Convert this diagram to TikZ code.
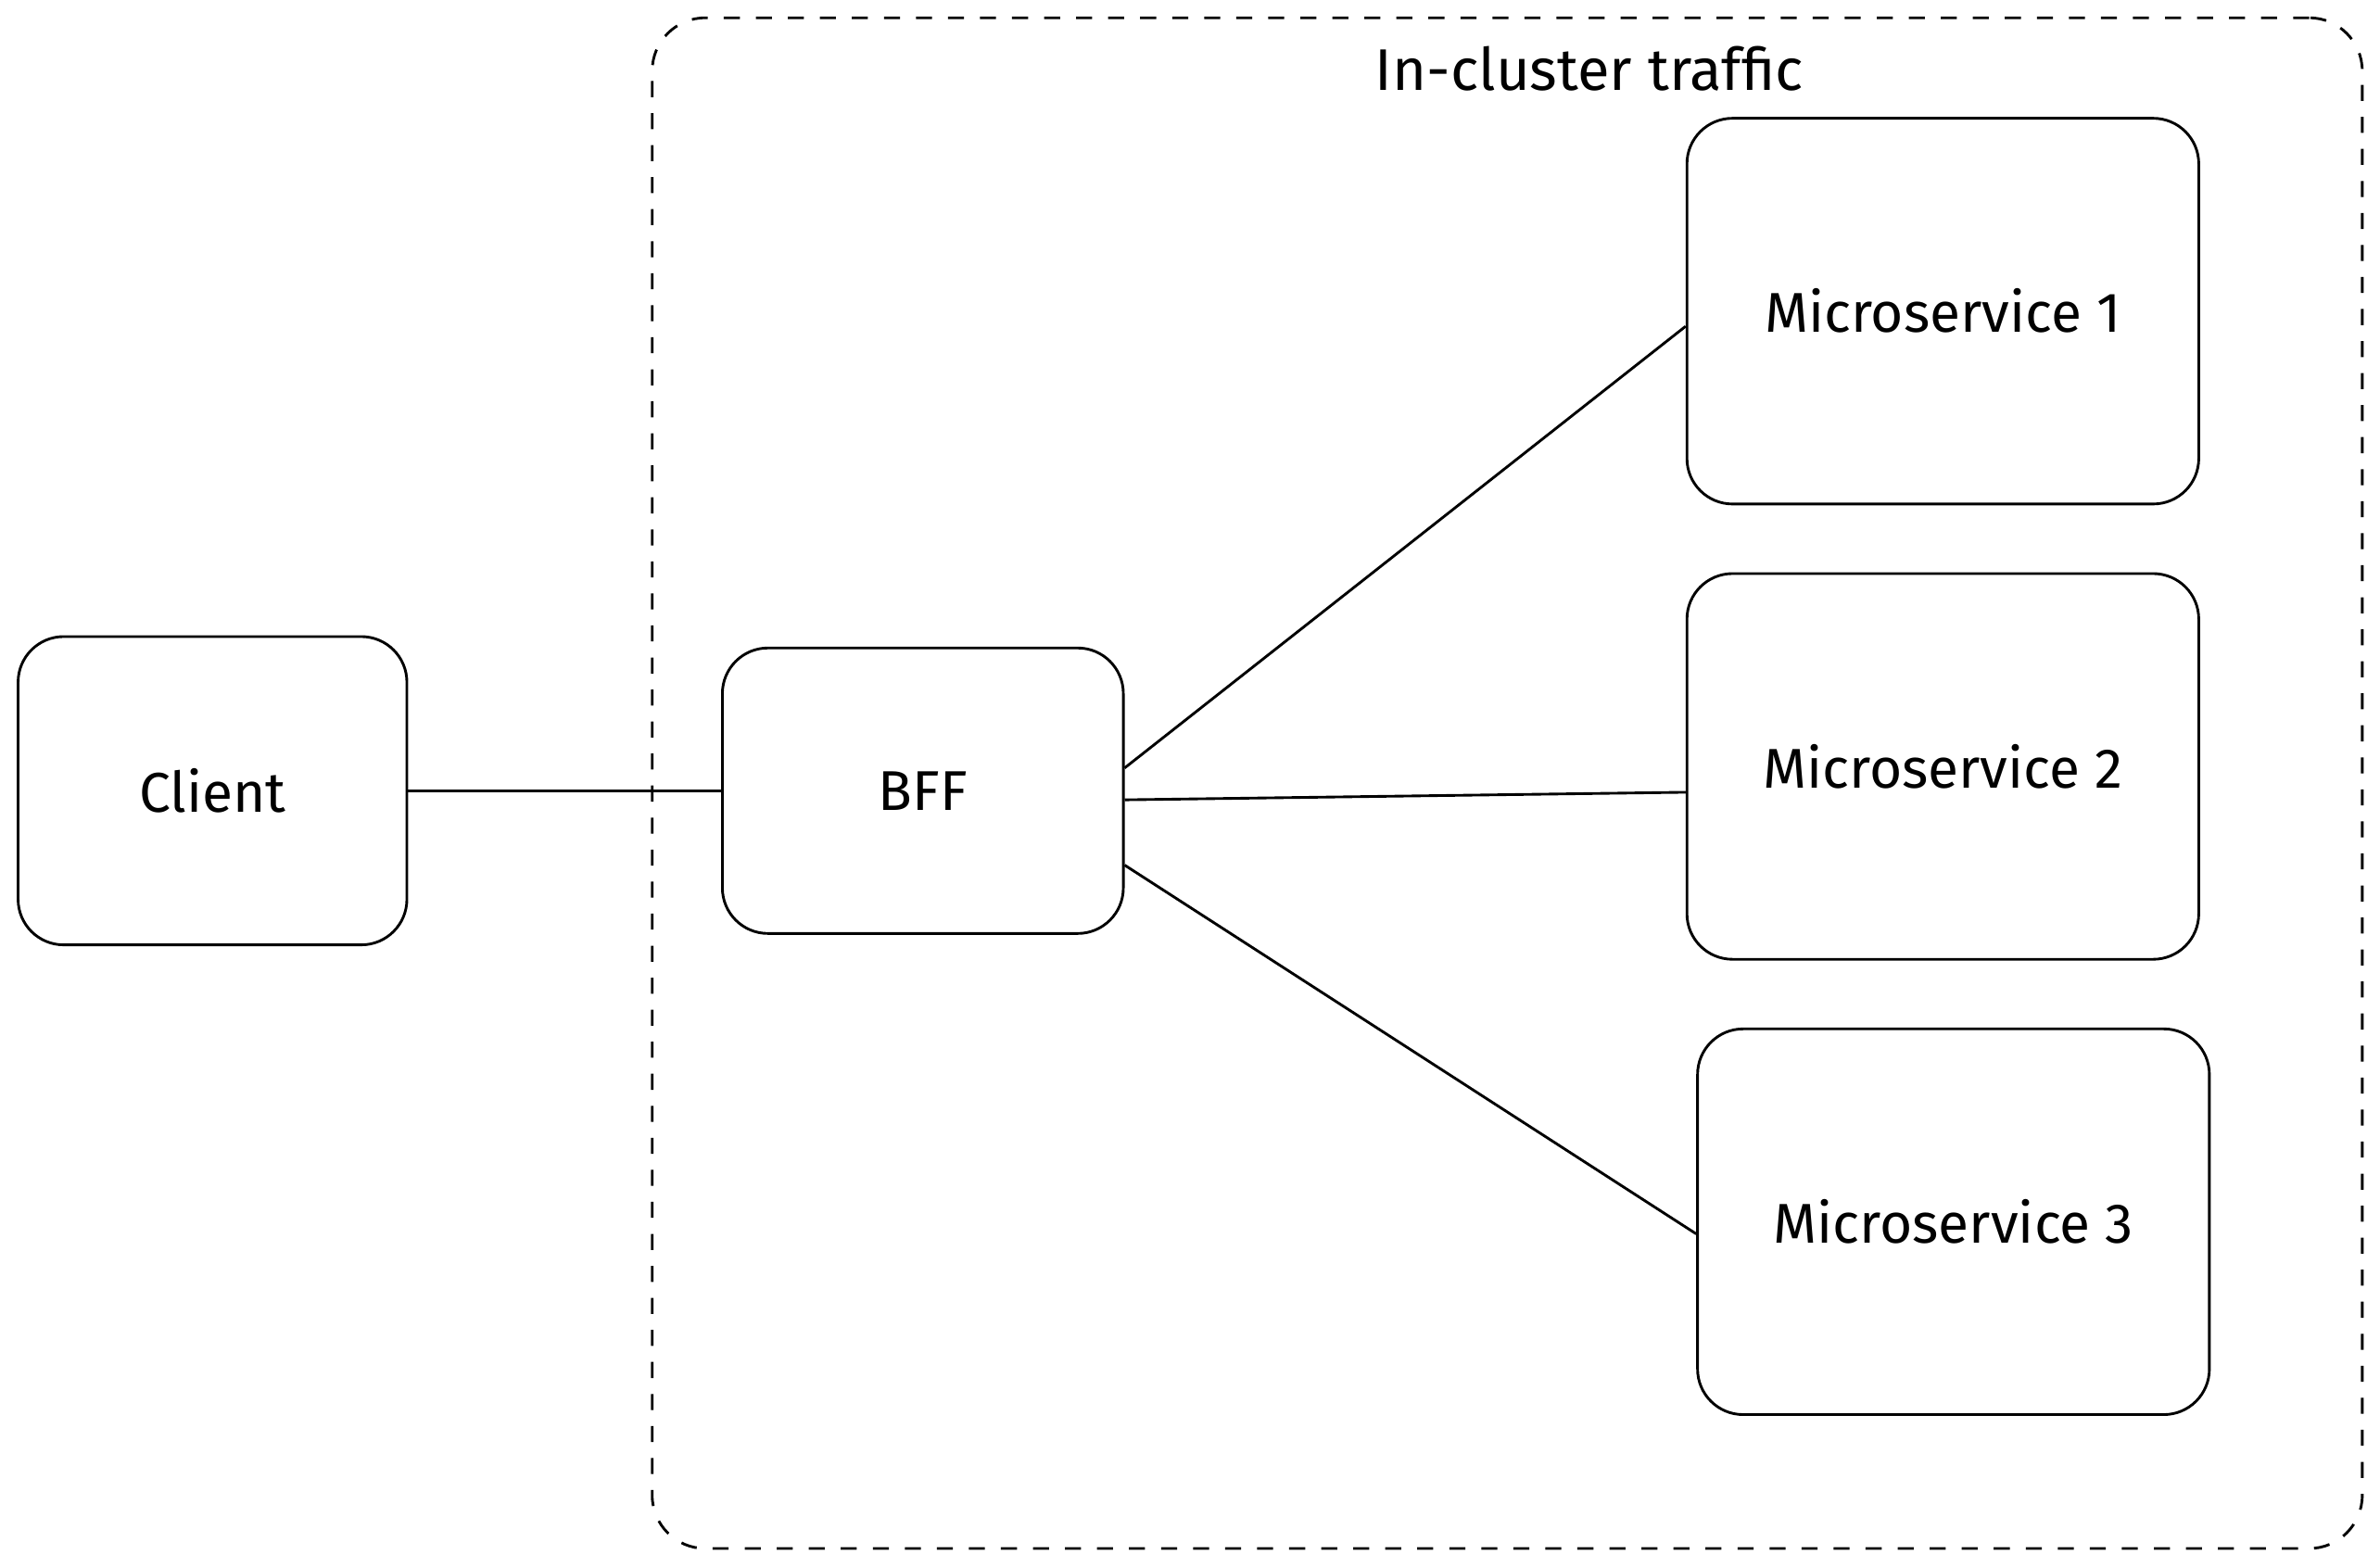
\documentclass[tikz,border=0pt]{standalone}
\usepackage{fontspec}
\setmainfont{Fira Sans}
\usepackage{tikz}
\tikzstyle{svc}=[draw, rounded corners = .3 cm, line width = .5pt, align = center, font = \fontsize{10.5}{12}\selectfont]
\tikzstyle{link}=[line width = .5pt]

\begin{document}
\begin{tikzpicture}[x=0.01cm, y=-0.01cm]
  \useasboundingbox (0,0) rectangle (1568,1032);
  \node[draw, dashed, rounded corners = .35 cm, line width = .5pt, minimum width = 11.26cm, minimum height = 10.08cm] (cluster) at (993,516) {};
  \node[font = \fontsize{11}{13}\selectfont] (title) at (1047,45) {In-cluster traffic};
  \node[svc, minimum width = 2.56cm, minimum height = 2.03cm] (client) at (140,521) {Client};
  \node[svc, minimum width = 2.64cm, minimum height = 1.88cm] (bff) at (608,521) {BFF};
  \node[svc, minimum width = 3.37cm, minimum height = 2.54cm] (ms1) at (1280,205) {Microservice 1};
  \node[svc, minimum width = 3.37cm, minimum height = 2.54cm] (ms2) at (1280,505) {Microservice 2};
  \node[svc, minimum width = 3.37cm, minimum height = 2.54cm] (ms3) at (1287,805) {Microservice 3};
  \draw[link] (client) -- (bff);
  \draw[link] ([yshift = .15cm]bff.east) -- ([yshift = -.1cm]ms1.west);
  \draw[link] ([yshift = -.06cm]bff.east) -- ([yshift = -.17cm]ms2.west);
  \draw[link] ([yshift = -.49cm]bff.east) -- ([yshift = -.08cm]ms3.west);
\end{tikzpicture}
\end{document}
